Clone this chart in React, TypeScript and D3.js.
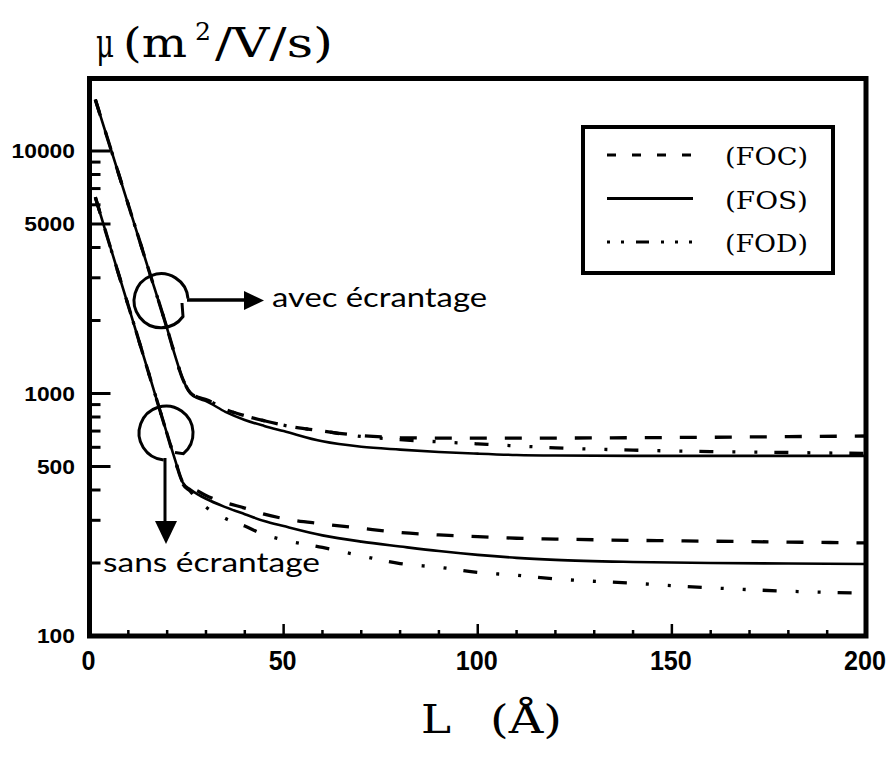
import React from 'react';
import * as d3 from 'd3';

// Layer thickness L (Å) at which mobilities are sampled
const L = [1.5, 5, 10, 15, 20, 22, 24, 26, 28, 30, 35, 40, 45, 50, 60, 70, 80, 90, 100, 110, 120, 140, 160, 180, 200];

// Mobility μ (m²/V/s), with screening ("avec écrantage")
const avecFOS = [16300, 10800, 6000, 3330, 1850, 1440, 1150, 1000, 955, 930, 840, 778, 735, 700, 635, 603, 587, 574, 565, 558, 555, 553, 553, 553, 553];
const avecFOC = [16300, 10800, 6000, 3330, 1850, 1440, 1150, 1005, 965, 945, 860, 810, 772, 740, 700, 670, 658, 655, 654, 654, 655, 657, 660, 664, 668];
const avecFOD = [16300, 10800, 6000, 3330, 1850, 1440, 1150, 1005, 965, 945, 860, 810, 772, 740, 700, 665, 645, 632, 620, 608, 597, 584, 576, 571, 566];

// Mobility μ (m²/V/s), without screening ("sans écrantage")
const sansFOS = [6450, 4200, 2300, 1250, 680, 535, 430, 402, 383, 368, 340, 318, 298, 284, 260, 245, 234, 224, 216, 210, 206, 202, 200, 199, 198];
const sansFOC = [6450, 4200, 2300, 1250, 680, 535, 432, 410, 395, 380, 355, 337, 318, 305, 290, 278, 267, 261, 257, 253, 251, 248, 246, 244, 242];
const sansFOD = [6450, 4200, 2300, 1250, 680, 535, 425, 395, 362, 340, 305, 284, 262, 249, 232, 214, 199, 192, 183, 178, 172, 165, 158, 153, 150];

// Axis ticks
const xMajorTicks = [0, 50, 100, 150, 200];
const xMinorTicks = [10, 20, 30, 40, 60, 70, 80, 90, 110, 120, 130, 140, 160, 170, 180, 190];
const yMajorTicks = [100, 500, 1000, 5000, 10000];
const yMinorTicks = [200, 300, 400, 600, 700, 800, 900, 2000, 3000, 4000, 6000, 7000, 8000, 9000];

// Legend
const legendLabels = ['(FOC)', '(FOS)', '(FOD)'];

const PLOT_DASH: Record<string, string | undefined> = {
  '(FOC)': '17 18',
  '(FOS)': undefined,
  '(FOD)': '14 19 3 19 3 17',
};
const LEGEND_DASH: Record<string, string | undefined> = {
  '(FOC)': '9 16',
  '(FOS)': undefined,
  '(FOD)': '3 11 3 12 13 12 3 11 3 11 3',
};

const tickFont = "'Liberation Sans', Arial, sans-serif";
const serif = "'DejaVu Serif', 'Liberation Serif', serif";
const annoFont = "Lato, 'Open Sans', sans-serif";

export default function App() {
  const x = d3.scaleLinear().domain([0, 200]).range([89.5, 866]);
  const y = d3.scaleLog().domain([100, 20000]).range([636, 78]);

  const line = d3
    .line<[number, number]>()
    .x((d) => x(d[0]))
    .y((d) => y(d[1]))
    .curve(d3.curveMonotoneX);
  const pts = (v: number[]) => L.map((l, i) => [l, v[i]] as [number, number]);

  const series = [
    { key: '(FOS)', values: avecFOS },
    { key: '(FOS)', values: sansFOS },
    { key: '(FOC)', values: avecFOC },
    { key: '(FOC)', values: sansFOC },
    { key: '(FOD)', values: avecFOD },
    { key: '(FOD)', values: sansFOD },
  ];

  const x0 = x(0);
  const yBottom = y(100);

  return (
    <svg
      width={891}
      height={769}
      style={{ position: 'absolute', left: 0, top: 0, background: '#fff' }}
    >
      <rect x={0} y={0} width={891} height={769} fill="#fff" />

      {/* title */}
      <text x={96} y={57} fontFamily={serif} fontSize={41} textLength={18} lengthAdjust="spacingAndGlyphs">μ</text>
      <text x={123} y={57} fontFamily={serif} fontSize={41} textLength={64} lengthAdjust="spacingAndGlyphs">(m</text>
      <text x={195} y={40} fontFamily={serif} fontSize={25} textLength={16} lengthAdjust="spacingAndGlyphs">2</text>
      <text x={215} y={57} fontFamily={serif} fontSize={41} textLength={118} lengthAdjust="spacingAndGlyphs">/V/s)</text>

      {/* y ticks, drawn inward */}
      {yMinorTicks.map((t) => (
        <line key={'ym' + t} x1={x0} x2={x0 + 11} y1={y(t)} y2={y(t)} stroke="#000" strokeWidth={3} />
      ))}
      {yMajorTicks.map((t) => (
        <line key={'yM' + t} x1={x0} x2={x0 + 21} y1={y(t)} y2={y(t)} stroke="#000" strokeWidth={3} />
      ))}
      {yMajorTicks.map((t) => (
        <text
          key={'yl' + t}
          x={75}
          y={y(t)}
          dy="0.36em"
          textAnchor="end"
          fontFamily={tickFont}
          fontWeight="bold"
          fontSize={20}
          textLength={String(t).length * 12.7}
          lengthAdjust="spacingAndGlyphs"
        >
          {t}
        </text>
      ))}

      {/* x ticks, drawn inward */}
      {xMinorTicks.map((t) => (
        <line key={'xm' + t} x1={x(t)} x2={x(t)} y1={yBottom} y2={yBottom - 6} stroke="#000" strokeWidth={2.5} />
      ))}
      {xMajorTicks.map((t) => (
        <line key={'xM' + t} x1={x(t)} x2={x(t)} y1={yBottom} y2={yBottom - 12} stroke="#000" strokeWidth={2.5} />
      ))}
      {xMajorTicks.map((t) => (
        <text
          key={'xl' + t}
          x={x(t) - 1}
          y={670}
          textAnchor="middle"
          fontFamily={tickFont}
          fontWeight="bold"
          fontSize={27}
          textLength={String(t).length * 14}
          lengthAdjust="spacingAndGlyphs"
        >
          {t}
        </text>
      ))}

      {/* curves */}
      {series.map((s, i) => (
        <path
          key={i}
          d={line(pts(s.values)) || ''}
          fill="none"
          stroke="#000"
          strokeWidth={s.key === '(FOS)' ? 2.6 : 3.3}
          strokeDasharray={PLOT_DASH[s.key]}
        />
      ))}

      {/* plot frame */}
      <rect
        x={x0}
        y={78.5}
        width={x(200) - x0}
        height={yBottom - 78.5}
        fill="none"
        stroke="#000"
        strokeWidth={5}
      />

      {/* legend */}
      <rect x={583} y={127} width={250} height={146} fill="#fff" stroke="#000" strokeWidth={4} />
      {legendLabels.map((lab, i) => {
        const base = 165 + i * 43.5;
        return (
          <g key={lab}>
            <line
              x1={607}
              x2={693}
              y1={base - 10}
              y2={base - 10}
              stroke="#000"
              strokeWidth={3}
              strokeDasharray={LEGEND_DASH[lab]}
            />
            <text
              x={725}
              y={base}
              fontFamily={serif}
              fontSize={25}
              textLength={83}
              lengthAdjust="spacingAndGlyphs"
            >
              {lab}
            </text>
          </g>
        );
      })}

      {/* annotation: avec écrantage */}
      <path
        d="M188,298.6 A27,27 0 1,0 183,316.5 L182,303"
        fill="none"
        stroke="#000"
        strokeWidth={3}
      />
      <line x1={187} x2={247} y1={300} y2={300} stroke="#000" strokeWidth={3.5} />
      <polygon points="244,291 264,300.5 244,310" fill="#000" />
      <text x={272} y={307} fontFamily={annoFont} fontSize={26} textLength={215} lengthAdjust="spacingAndGlyphs">
        avec écrantage
      </text>

      {/* annotation: sans écrantage */}
      <path
        d="M163.6,459.9 A27,27 0 1,1 183.4,453.7 L175,452.5"
        fill="none"
        stroke="#000"
        strokeWidth={3}
      />
      <line x1={165} x2={165} y1={458} y2={525} stroke="#000" strokeWidth={3} />
      <polygon points="155,521 177,521 166,544" fill="#000" />
      <text x={103} y={572} fontFamily={annoFont} fontSize={26} textLength={217} lengthAdjust="spacingAndGlyphs">
        sans écrantage
      </text>

      {/* x axis title */}
      <text x={421} y={733} fontFamily={serif} fontSize={40} textLength={30} lengthAdjust="spacingAndGlyphs">L</text>
      <text x={490} y={733} fontFamily={serif} fontSize={40} textLength={72} lengthAdjust="spacingAndGlyphs">(Å)</text>
    </svg>
  );
}
